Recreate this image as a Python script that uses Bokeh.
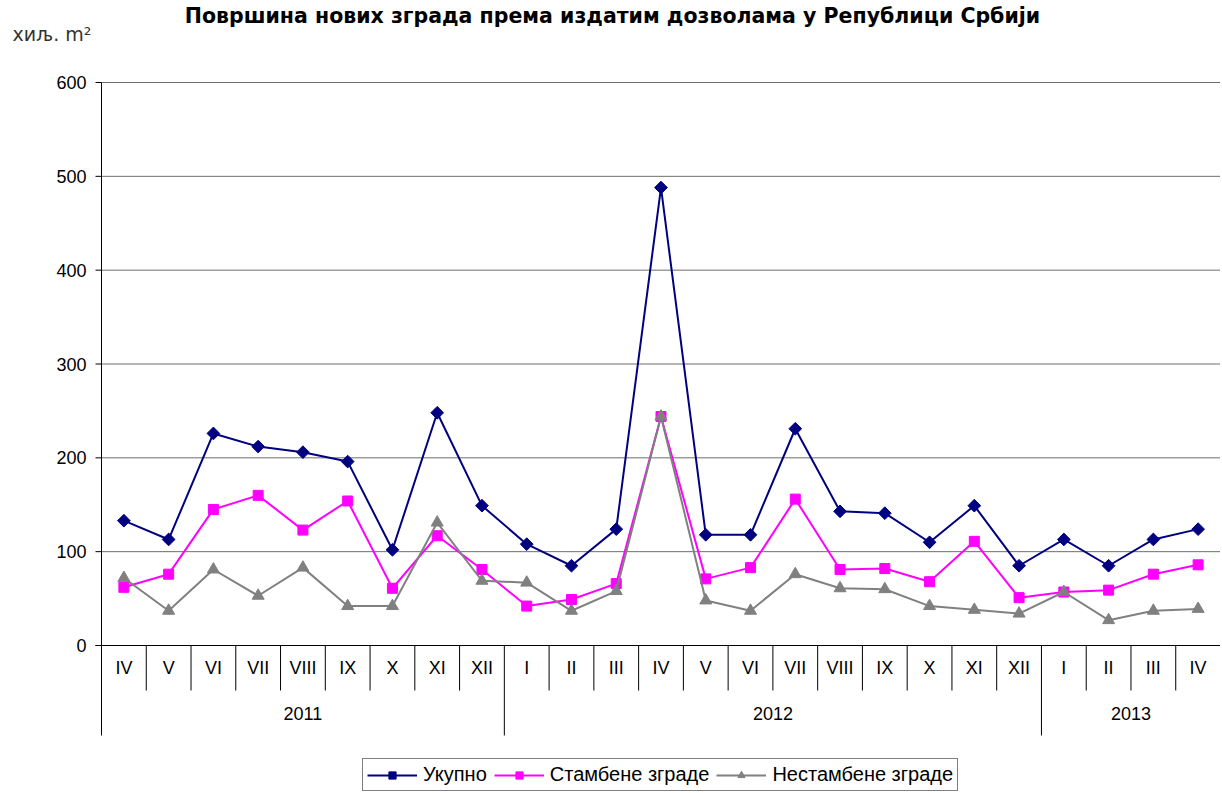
import math
from bokeh.plotting import figure
from bokeh.models import Range1d, Label, ColumnDataSource
from bokeh.embed import file_html
from bokeh.resources import INLINE
from bokeh.core.properties import value

# ---------------- data ----------------
months = ["IV", "V", "VI", "VII", "VIII", "IX", "X", "XI", "XII",
          "I", "II", "III", "IV", "V", "VI", "VII", "VIII", "IX", "X", "XI", "XII",
          "I", "II", "III", "IV"]
year_labels = ["2011", "2012", "2013"]
year_counts = [9, 12, 4]
ukupno = [133, 113, 226, 212, 206, 196, 102, 248, 149,
          108, 85, 124, 488, 118, 118, 231, 143, 141, 110, 149, 85,
          113, 85, 113, 124]
stambene = [62, 76, 145, 160, 123, 154, 61, 117, 81,
            42, 49, 66, 244, 71, 83, 156, 81, 82, 68, 111, 51,
            57, 59, 76, 86]
nestambene = [72, 37, 81, 53, 83, 42, 42, 131, 69,
              67, 37, 58, 244, 48, 37, 76, 61, 60, 42, 38, 34,
              57, 27, 37, 39]
y_ticks = [0, 100, 200, 300, 400, 500, 600]
series_names = ["Укупно", "Стамбене зграде", "Нестамбене зграде"]
title_text = "Површина нових зграда према издатим дозволама у Републици Србији"
unit_text = "хиљ. m²"

# ---------------- layout constants (pixels) ----------------
W, H = 1220, 792
LEFT = 101               # pixel column of the value axis
ZERO_PY = 645            # pixel row of value 0
PXU = 563.0 / 600.0      # pixels per value unit
n = len(months)
CAT_PX = (W - LEFT) / n  # pixels per category
TICK = 6
ROW = 45.0 / PXU         # one row of the category table, in value units
FONT = "Liberation Sans"


def fx(px):
    return (px - LEFT) / CAT_PX


def fy(py):
    return (ZERO_PY - py) / PXU


p = figure(width=W, height=H, output_backend="svg", toolbar_location=None,
           x_axis_location=None, y_axis_location=None, title=None,
           x_range=Range1d(fx(0), fx(W)), y_range=Range1d(fy(H), fy(0)),
           min_border_left=0, min_border_right=0, min_border_top=0,
           min_border_bottom=0, outline_line_color=None,
           background_fill_color="white", border_fill_color="white")
p.xgrid.visible = False
p.ygrid.visible = False

# ---------------- value axis (drawn from the tick list) ----------------
top_tick = max(y_ticks)
grid_ticks = [t for t in y_ticks if t != 0]
p.segment(x0=[0] * len(grid_ticks), y0=grid_ticks, x1=[n] * len(grid_ticks),
          y1=grid_ticks, line_color="#6e6e6e", line_width=1)
p.segment(x0=[fx(LEFT - TICK)], y0=[0], x1=[n], y1=[0], line_color="black", line_width=1)
p.segment(x0=[fx(LEFT - TICK)] * len(y_ticks), y0=y_ticks, x1=[0] * len(y_ticks),
          y1=y_ticks, line_color="black", line_width=1)
p.segment(x0=[0], y0=[-2 * ROW], x1=[0], y1=[top_tick], line_color="black", line_width=1)
p.text(x=[fx(LEFT - 15)] * len(y_ticks), y=y_ticks, text=[str(t) for t in y_ticks],
       text_align="right", text_baseline="middle", text_font=value(FONT),
       text_font_size="18px", text_color="black")

# ---------------- category table below zero ----------------
xs = [i + 0.5 for i in range(n)]
year_bounds = []
acc = 0
for c in year_counts:
    acc += c
    year_bounds.append(acc)
month_bounds = [b for b in range(1, n) if b not in year_bounds]
p.segment(x0=month_bounds, y0=[0] * len(month_bounds), x1=month_bounds,
          y1=[-ROW] * len(month_bounds), line_color="black", line_width=1)
yb = year_bounds[:-1]
p.segment(x0=yb, y0=[0] * len(yb), x1=yb, y1=[-2 * ROW] * len(yb),
          line_color="black", line_width=1)

p.text(x=xs, y=[-ROW / 2] * n, text=months, text_align="center",
       text_baseline="middle", text_font=value(FONT), text_font_size="18px",
       text_color="black")

starts = [0] + year_bounds[:-1]
year_x = [(s + e) / 2 for s, e in zip(starts, year_bounds)]
p.text(x=year_x, y=[-1.5 * ROW] * len(year_x), text=year_labels,
       text_align="center", text_baseline="middle", text_font=value(FONT),
       text_font_size="18px", text_color="black")

# ---------------- series ----------------
src = ColumnDataSource(dict(x=xs, u=ukupno, s=stambene, ns=nestambene))
p.line("x", "u", source=src, line_color="#000080", line_width=2, legend_label=series_names[0])
p.scatter("x", "u", source=src, marker="square", angle=math.pi / 4, size=9,
          fill_color="#000080", line_color="#000080", legend_label=series_names[0])
p.line("x", "s", source=src, line_color="#FF00FF", line_width=2, legend_label=series_names[1])
p.scatter("x", "s", source=src, marker="square", size=10,
          fill_color="#FF00FF", line_color="#FF00FF", legend_label=series_names[1])
p.line("x", "ns", source=src, line_color="#808080", line_width=2, legend_label=series_names[2])
p.scatter("x", "ns", source=src, marker="triangle", size=12,
          fill_color="#808080", line_color="#808080", legend_label=series_names[2])

lg = p.legend[0]
lg.orientation = "horizontal"
lg.location = (362, 1)
lg.label_text_font = FONT
lg.label_text_font_size = "20px"
lg.label_text_color = "black"
lg.glyph_width = 50
lg.glyph_height = 18
lg.label_standoff = 6
lg.label_height = 18
lg.spacing = 7
lg.padding = 4
lg.margin = 0
lg.border_line_color = "black"
lg.border_line_width = 1
lg.background_fill_color = "white"

# ---------------- title and unit ----------------
p.add_layout(Label(x=fx(612), y=fy(15), text=title_text, text_align="center",
                   text_baseline="alphabetic", text_font="DejaVu Sans",
                   text_font_size="20.5px", text_font_style="bold", text_color="black"))
p.add_layout(Label(x=fx(12), y=fy(33), text=unit_text, text_align="left",
                   text_baseline="alphabetic", text_font="DejaVu Sans", text_font_size="19px",
                   text_color="#333333"))

open("out.html", "w").write(file_html(p, INLINE))
